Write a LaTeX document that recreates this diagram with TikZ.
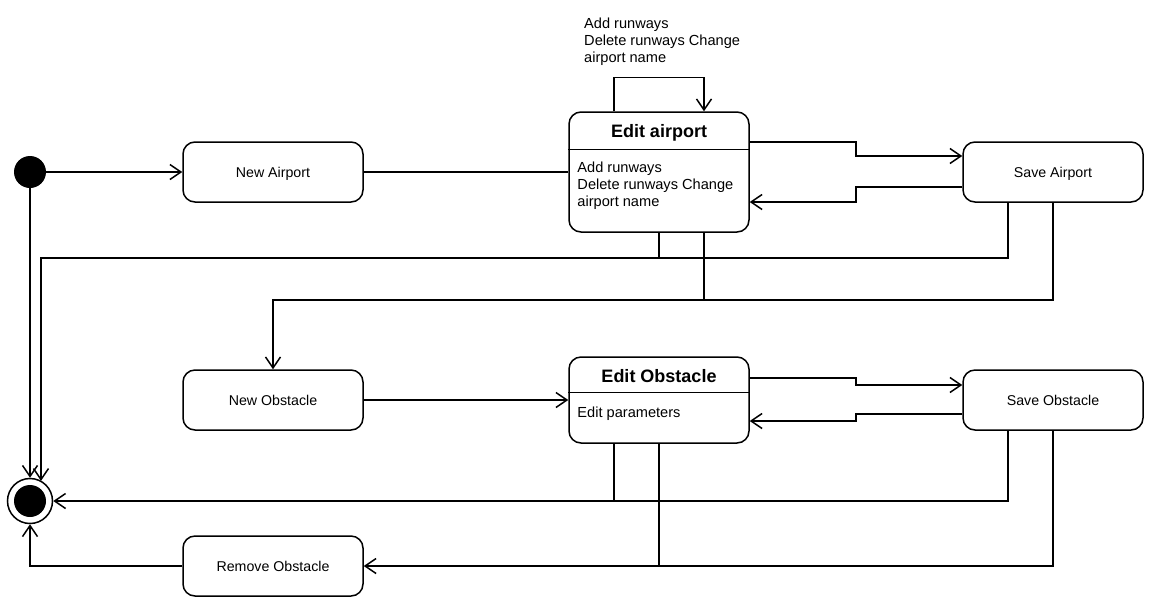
\documentclass[tikz,border=0pt]{standalone}
\usepackage{fontspec}
\setmainfont{Liberation Sans}
\usetikzlibrary{arrows.meta,calc}

\begin{document}
\begin{tikzpicture}[x=1pt,y=-1pt]
\tikzset{state/.style={draw,line width=1.5pt,rounded corners=12pt,minimum width=180pt,minimum height=60pt,text depth=0pt,font=\fontsize{14.2}{17}\selectfont}}
\tikzset{title/.style={font=\bfseries\fontsize{18}{20}\selectfont,inner sep=0pt}}
\tikzset{body/.style={anchor=north west,align=left,inner sep=0pt,font=\fontsize{14.6}{17}\selectfont}}
\tikzset{link/.style={line width=1.5pt}}
\tikzset{flow/.style={link,-{Straight Barb[length=11pt,width=15pt,line width=1.5pt]}}}

\useasboundingbox (0,0) rectangle (1155,606);

% states
\node[circle,fill,minimum size=32pt,inner sep=0pt] (init) at (30,172) {};
\node[circle,draw,line width=1.5pt,minimum size=45pt,inner sep=0pt,
  path picture={\fill (path picture bounding box.center) circle (16pt);}] (final) at (30,501) {};

\node[state] (na) at (273,172) {New Airport};
\node[state,minimum height=120pt] (ea) at (659,172) {};
\node[title] (eat) at (659,132.5) {Edit airport};
\draw[link] ($(ea.north west)+(0,38)$) -- ($(ea.north east)+(0,38)$);
\node[body] (eab) at ($(ea.north west)+(9,50)$) {Add runways\\Delete runways Change\\airport name};
\node[state] (sa) at (1053,172) {Save Airport};

\node[state] (no) at (273,400) {New Obstacle};
\node[state,minimum height=86pt] (eo) at (659,400) {};
\node[title] (eot) at (659,376) {Edit Obstacle};
\draw[link] ($(eo.north west)+(0,36)$) -- ($(eo.north east)+(0,36)$);
\node[body] (eob) at ($(eo.north west)+(9,50)$) {Edit parameters};
\node[state] (so) at (1053,400) {Save Obstacle};

\node[state] (ro) at (273,566) {Remove Obstacle};

% helper points
\coordinate (ma) at (856,172);
\coordinate (mo) at (856,400);
\coordinate (r1) at (41,258);
\coordinate (r2) at (273,300);

% transitions
\draw[flow] (init) -- (na);
\draw[flow] (init) -- (final);
\draw[link] (na) -- (ea);
\draw[flow] ([xshift=-45pt]ea.north) -- ++(0,-34) -| ([xshift=45pt]ea.north);
\node[body] (loop) at (584,18) {Add runways\\Delete runways Change\\airport name};

\draw[flow] ([yshift=30pt]ea.east) -| ([yshift=16pt]ma) -- ([yshift=16pt]sa.west);
\draw[flow] ([yshift=-15pt]sa.west) -| ([yshift=-30pt]ma) -- ([yshift=-30pt]ea.east);

\draw[flow] (ea.south) |- (r1) -- (r1 |- final.60);
\draw[link] ([xshift=-45pt]sa.south) |- (ea.south |- r1);
\draw[flow] ([xshift=45pt]ea.south) |- (r2) -- (no);
\draw[link] (sa.south) |- ([xshift=45pt]ea.south |- r2);

\draw[flow] (no) -- (eo);
\draw[flow] ([yshift=22pt]eo.east) -| ([yshift=15pt]mo) -- ([yshift=15pt]so.west);
\draw[flow] ([yshift=-14pt]so.west) -| ([yshift=-21pt]mo) -- ([yshift=-21pt]eo.east);

\draw[flow] ([xshift=-45pt]eo.south) |- (final);
\draw[link] ([xshift=-45pt]so.south) |- ([xshift=-45pt]eo.south |- final);
\draw[flow] (eo.south) |- (ro);
\draw[link] (so.south) |- (eo.south |- ro);
\draw[flow] (ro) -| (final);

\end{tikzpicture}
\end{document}
